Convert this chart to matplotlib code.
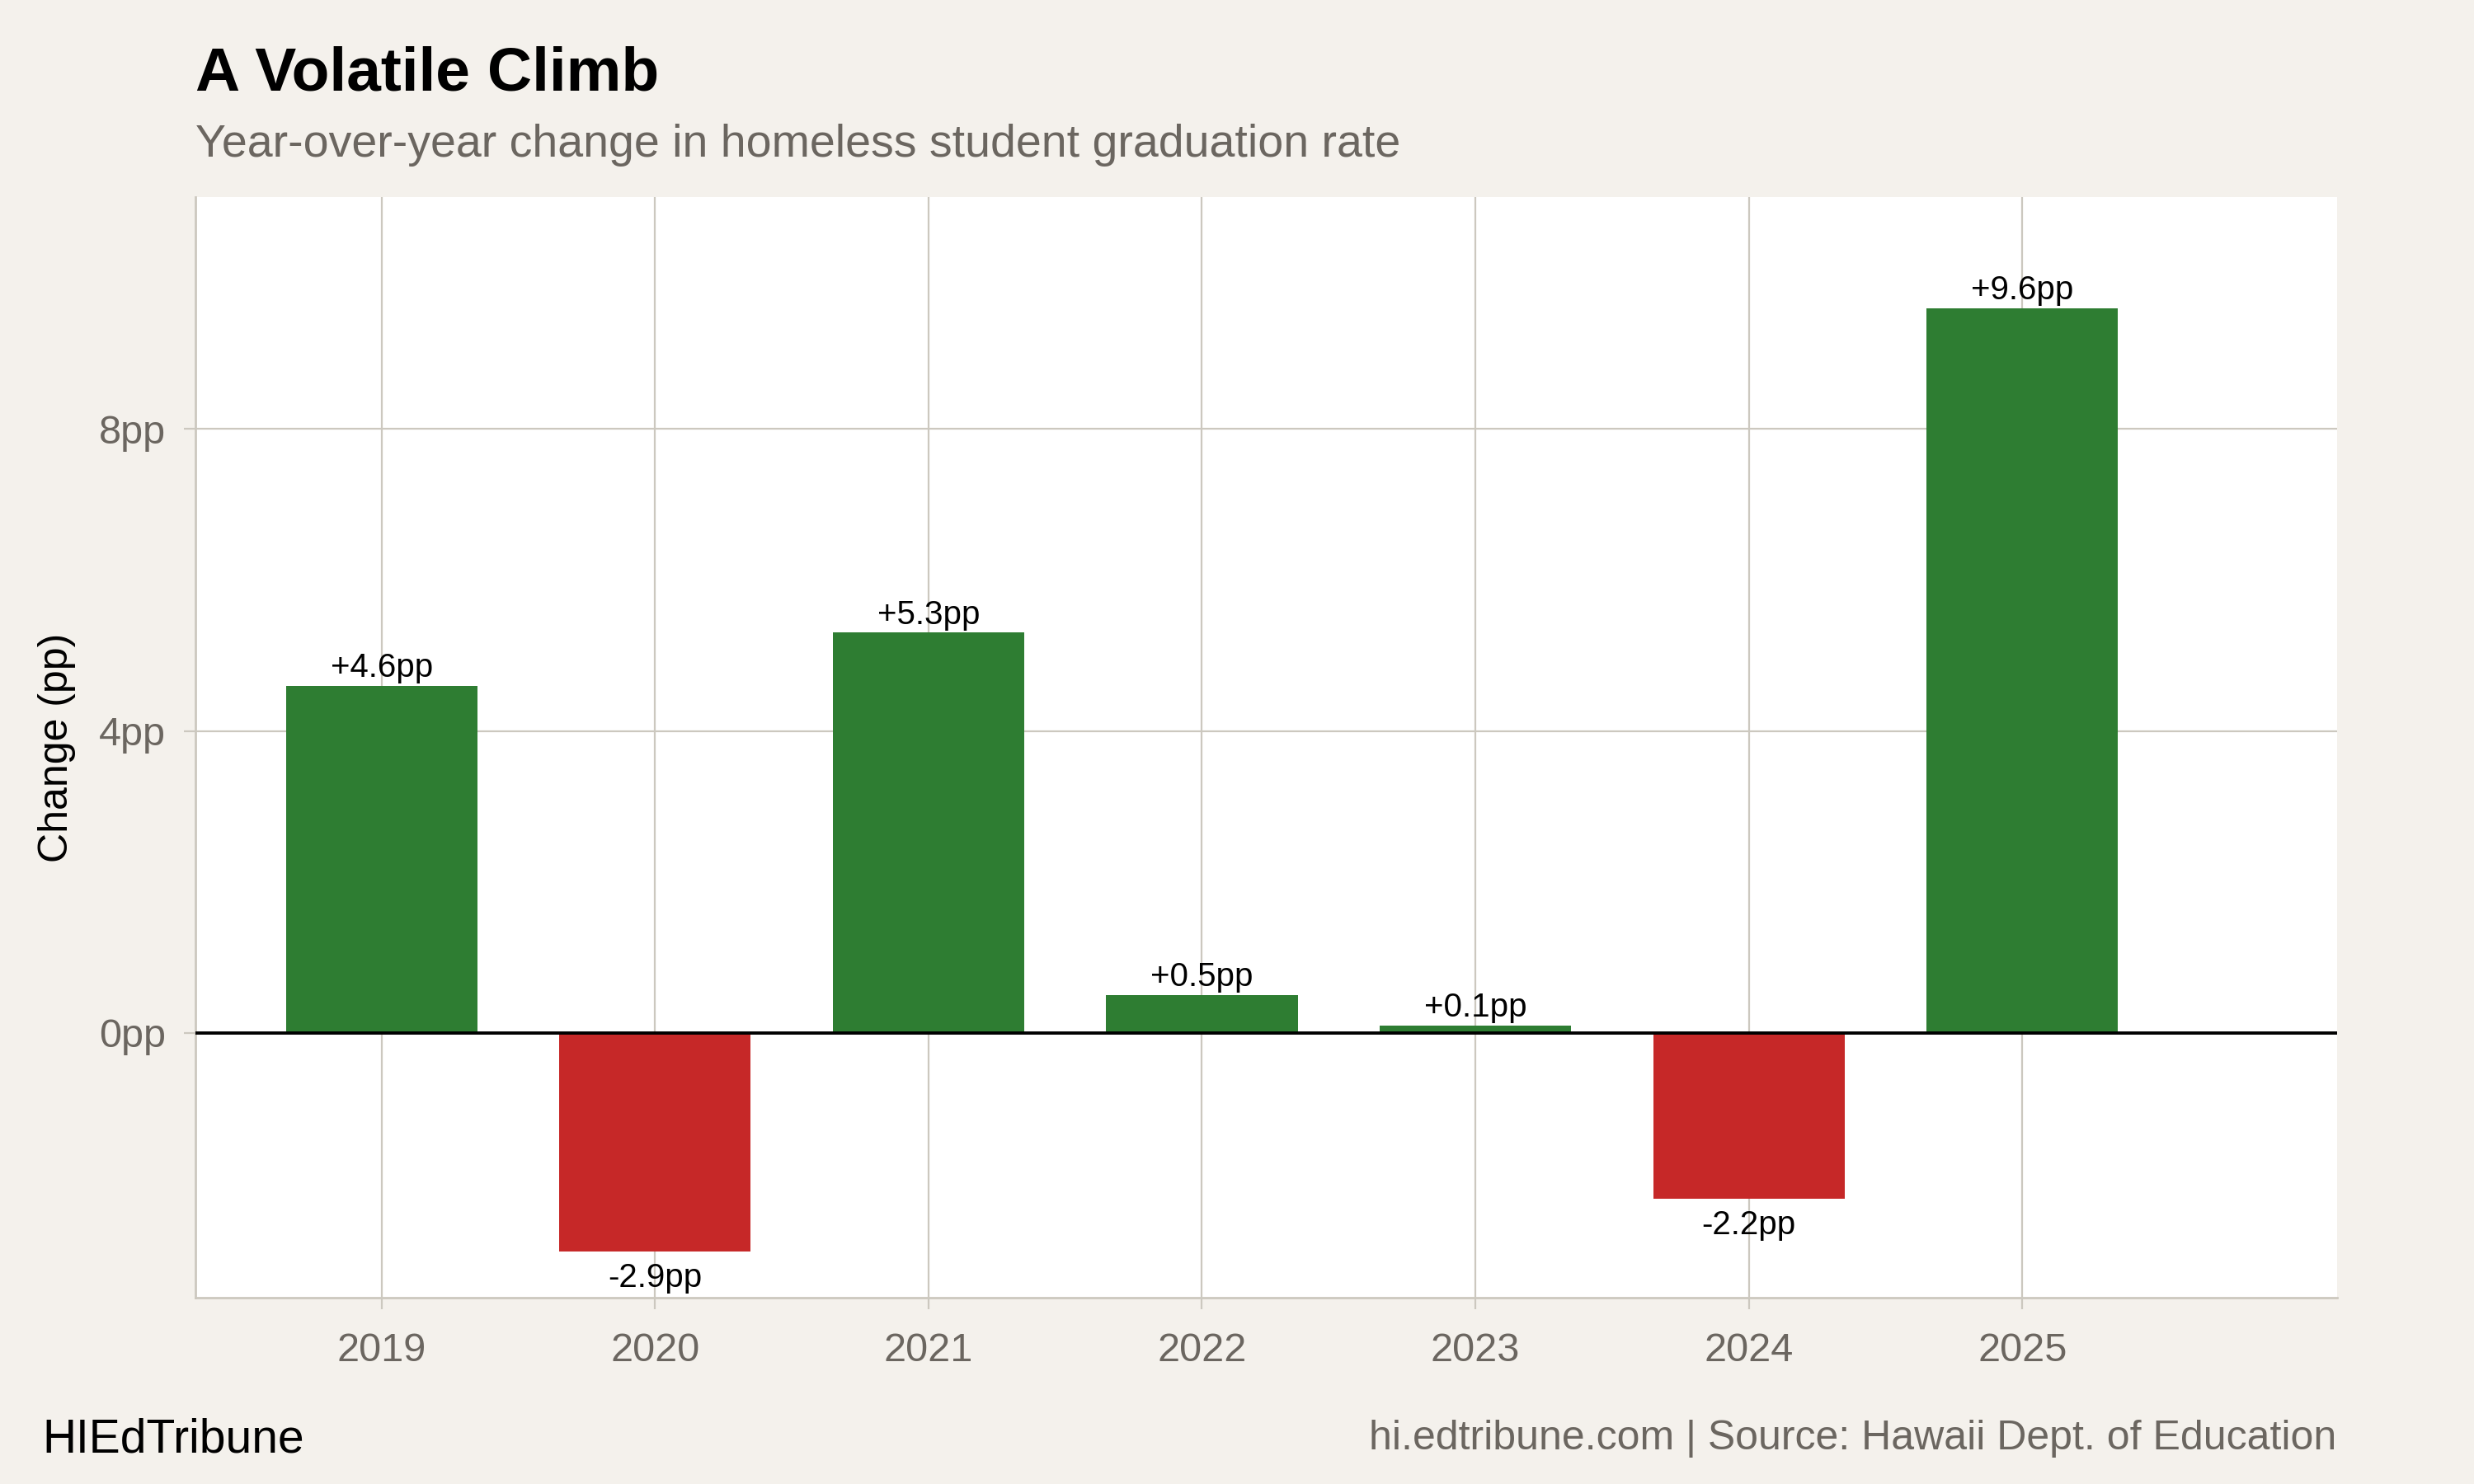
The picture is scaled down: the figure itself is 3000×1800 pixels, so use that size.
import numpy as np
import matplotlib.pyplot as plt

## Data:
years = [2019, 2020, 2021, 2022, 2023, 2024, 2025]
change = [4.6, -2.9, 5.3, 0.5, 0.1, -2.2, 9.6]
labels = ["+4.6pp", "-2.9pp", "+5.3pp", "+0.5pp", "+0.1pp", "-2.2pp", "+9.6pp"]
yticks = [0, 4, 8]
ytick_labels = ["0pp", "4pp", "8pp"]

## Style:
bg = "#F4F1EC"
grid_c = "#CCC8BF"
gray = "#6B6660"
green = "#2E7D32"
red = "#C62828"
plt.rcParams['font.family'] = ['Liberation Sans', 'DejaVu Sans']

fig = plt.figure(figsize=(15, 9), dpi=200, facecolor=bg)
ax = fig.add_axes([124 / 1568, 1 - 823 / 941, (1481 - 124) / 1568, (823 - 125) / 941])
ax.set_facecolor("white")

colors = [green if v >= 0 else red for v in change]
ax.bar(years, change, width=0.7, color=colors, zorder=3)
ax.axhline(0, color="black", lw=1.4, zorder=4)

## Bar labels:
for x, v, t in zip(years, change, labels):
    if v >= 0:
        ax.annotate(t, (x, v), xytext=(0, 1), textcoords="offset points",
                    ha="center", va="bottom", fontsize=14.5, color="black", zorder=5)
    else:
        ax.annotate(t, (x, v), xytext=(0, -4.5), textcoords="offset points",
                    ha="center", va="top", fontsize=14.5, color="black", zorder=5)

ax.set_xlim(2018.32, 2026.15)
ax.set_ylim(-3.51, 11.07)
ax.set_xticks(years)
ax.set_xticklabels([str(y) for y in years])
ax.set_yticks(yticks)
ax.set_yticklabels(ytick_labels)
ax.grid(True, color=grid_c, lw=0.8, zorder=0)
ax.set_axisbelow(True)

for s in ["top", "right"]:
    ax.spines[s].set_visible(False)
for s in ["left", "bottom"]:
    ax.spines[s].set_color(grid_c)
    ax.spines[s].set_linewidth(1.0)
ax.tick_params(axis="both", colors=grid_c, labelcolor=gray, labelsize=17.5,
               length=5, width=0.8, direction="out", pad=8)
ax.tick_params(axis="x", pad=10)
ax.set_ylabel("Change (pp)", fontsize=18, color="black", labelpad=10)

## Titles and footer:
fig.text(124 / 1568, 1 - 47 / 941, "A Volatile Climb", fontsize=27, fontweight="bold",
         color="black", ha="left", va="center")
fig.text(124 / 1568, 1 - 92 / 941, "Year-over-year change in homeless student graduation rate",
         fontsize=20, color=gray, ha="left", va="center")
fig.text(27 / 1568, 1 - 913 / 941, "HIEdTribune", fontsize=20.5, color="black",
         ha="left", va="center")
fig.text(1481 / 1568, 1 - 912 / 941, "hi.edtribune.com | Source: Hawaii Dept. of Education",
         fontsize=18, color=gray, ha="right", va="center")

fig.savefig("out.png", dpi=200, facecolor=bg)
